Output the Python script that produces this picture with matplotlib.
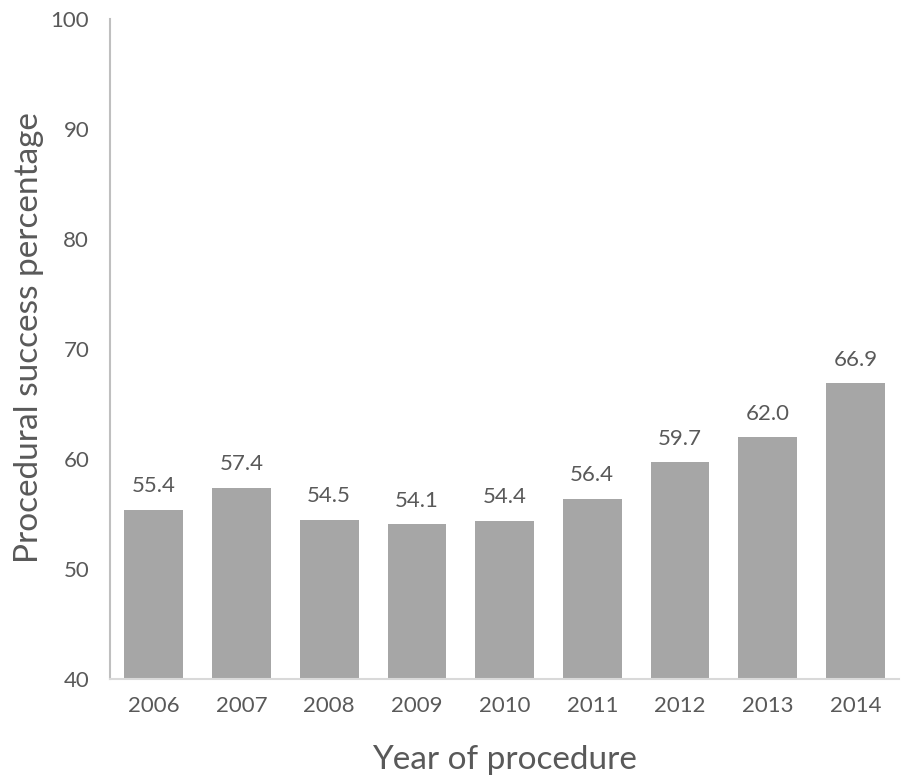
import matplotlib.pyplot as plt

years = ["2006", "2007", "2008", "2009", "2010", "2011", "2012", "2013", "2014"]
success = [55.4, 57.4, 54.5, 54.1, 54.4, 56.4, 59.7, 62.0, 66.9]
yticks = [40, 50, 60, 70, 80, 90, 100]

text_color = "#595959"
plt.rcParams["font.family"] = ["Lato", "DejaVu Sans"]

fig = plt.figure(figsize=(9.03, 7.8), dpi=100)
ax = fig.add_axes([0.1218, 0.1295, 0.874, 0.8461])

x = range(len(years))
ax.bar(x, success, width=0.67, color="#A6A6A6", zorder=2)
for xi, v in zip(x, success):
    ax.text(xi, v + 1.2, f"{v:.1f}", ha="center", va="bottom",
            fontsize=16, color=text_color)

ax.set_xlim(-0.5, len(years) - 0.5)
ax.set_ylim(40, 100)
ax.set_yticks(yticks)
ax.set_xticks(list(x))
ax.set_xticklabels(years)
ax.tick_params(axis="both", length=0, labelsize=16, labelcolor=text_color)
ax.tick_params(axis="y", pad=15)
ax.tick_params(axis="x", pad=12)

for side in ("top", "right"):
    ax.spines[side].set_visible(False)
ax.spines["left"].set_color("#BFBFBF")
ax.spines["left"].set_linewidth(1.5)
ax.spines["bottom"].set_color("#D9D9D9")
ax.spines["bottom"].set_linewidth(1.5)

ax.set_xlabel("Year of procedure", fontsize=24, color=text_color, labelpad=21)
ax.set_ylabel("Procedural success percentage", fontsize=24, color=text_color)
ax.yaxis.set_label_coords(-0.084, 0.518)

fig.savefig("out.png", dpi=100)
